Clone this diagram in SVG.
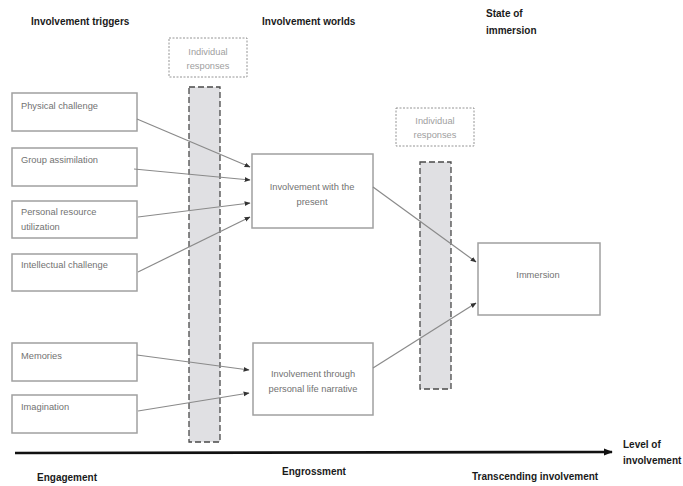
<svg xmlns="http://www.w3.org/2000/svg" width="683" height="486" viewBox="0 0 683 486">
  <defs>
    <marker id="tip" viewBox="0 0 10 10" refX="9" refY="5" markerWidth="6" markerHeight="6" markerUnits="userSpaceOnUse" orient="auto">
      <path d="M0,1 L10,5 L0,9 z" fill="#333"/>
    </marker>
    <marker id="axisTip" viewBox="0 0 10 10" refX="9" refY="5" markerWidth="9" markerHeight="9" markerUnits="userSpaceOnUse" orient="auto">
      <path d="M0,1 L10,5 L0,9 z" fill="#111"/>
    </marker>
  </defs>
  <style>
    .head { font-family: "Liberation Sans", Arial, sans-serif; font-size: 10px; font-weight: bold; fill: #1a1a1a; }
    .node rect { fill: #fff; stroke: #a0a0a0; stroke-width: 1.5; }
    .lbl { font-family: "Liberation Sans", Arial, sans-serif; font-size: 9.3px; fill: #727272; }
    .resp rect { fill: none; stroke: #7a7a7a; stroke-width: 0.8; stroke-dasharray: 2 1.5; }
    .resp text { font-family: "Liberation Sans", Arial, sans-serif; font-size: 9.3px; fill: #a0a0a0; text-anchor: middle; }
    .bar { fill: #e0e0e3; stroke: #4a4a4a; stroke-width: 1.3; stroke-dasharray: 6 3; }
    .conn line { stroke: #8a8a8a; stroke-width: 1.2; marker-end: url(#tip); }
    .mid { text-anchor: middle; }
  </style>

  <!-- column headings -->
  <text class="head" x="31" y="25">Involvement triggers</text>
  <text class="head" x="262" y="25">Involvement worlds</text>
  <text class="head" x="486" y="17">State of</text>
  <text class="head" x="486" y="34">immersion</text>

  <!-- filters between stages -->
  <g id="responses-1" class="resp">
    <rect x="169" y="38" width="78" height="39"/>
    <text x="208" y="55">Individual</text>
    <text x="208" y="69">responses</text>
  </g>
  <rect id="filter-1" class="bar" x="189" y="87" width="31" height="355"/>

  <g id="responses-2" class="resp">
    <rect x="396" y="108" width="78" height="38"/>
    <text x="435" y="124">Individual</text>
    <text x="435" y="138">responses</text>
  </g>
  <rect id="filter-2" class="bar" x="420" y="162" width="31" height="227"/>

  <!-- triggers -->
  <g id="physical-challenge" class="node">
    <rect x="12" y="93" width="125" height="38"/>
    <text class="lbl" x="21" y="109">Physical challenge</text>
  </g>
  <g id="group-assimilation" class="node">
    <rect x="12" y="148" width="125" height="38"/>
    <text class="lbl" x="21" y="163">Group assimilation</text>
  </g>
  <g id="personal-resource" class="node">
    <rect x="12" y="201" width="125" height="37"/>
    <text class="lbl" x="21" y="215">Personal resource</text>
    <text class="lbl" x="21" y="230">utilization</text>
  </g>
  <g id="intellectual-challenge" class="node">
    <rect x="12" y="254" width="125" height="37"/>
    <text class="lbl" x="21" y="268">Intellectual challenge</text>
  </g>
  <g id="memories" class="node">
    <rect x="12" y="343" width="125" height="38"/>
    <text class="lbl" x="21" y="359">Memories</text>
  </g>
  <g id="imagination" class="node">
    <rect x="12" y="395" width="125" height="38"/>
    <text class="lbl" x="21" y="410">Imagination</text>
  </g>

  <!-- worlds -->
  <g id="present" class="node">
    <rect x="252" y="154" width="121" height="74"/>
    <text class="lbl mid" x="312" y="190">Involvement with the</text>
    <text class="lbl mid" x="312" y="205">present</text>
  </g>
  <g id="narrative" class="node">
    <rect x="253" y="343" width="120" height="72"/>
    <text class="lbl mid" x="313" y="377">Involvement through</text>
    <text class="lbl mid" x="313" y="392">personal life narrative</text>
  </g>

  <!-- state -->
  <g id="immersion" class="node">
    <rect x="478" y="243" width="122" height="72"/>
    <text class="lbl mid" x="538" y="278">Immersion</text>
  </g>

  <!-- connectors -->
  <g id="connectors" class="conn">
    <line x1="137" y1="119" x2="250" y2="167"/>
    <line x1="134" y1="169" x2="250" y2="180"/>
    <line x1="138" y1="217" x2="250" y2="203"/>
    <line x1="138" y1="272" x2="250" y2="217"/>
    <line x1="137" y1="355" x2="249" y2="370"/>
    <line x1="138" y1="411" x2="249" y2="393"/>
    <line x1="373" y1="187" x2="476" y2="262"/>
    <line x1="373" y1="368" x2="476" y2="303"/>
  </g>

  <!-- involvement axis -->
  <line id="axis" x1="15" y1="453" x2="612" y2="452" stroke="#111" stroke-width="2.6" marker-end="url(#axisTip)"/>
  <text class="head" x="623" y="448">Level of</text>
  <text class="head" x="623" y="464">involvement</text>
  <text class="head" x="37" y="481">Engagement</text>
  <text class="head" x="282" y="475">Engrossment</text>
  <text class="head" x="472" y="480">Transcending involvement</text>
</svg>
